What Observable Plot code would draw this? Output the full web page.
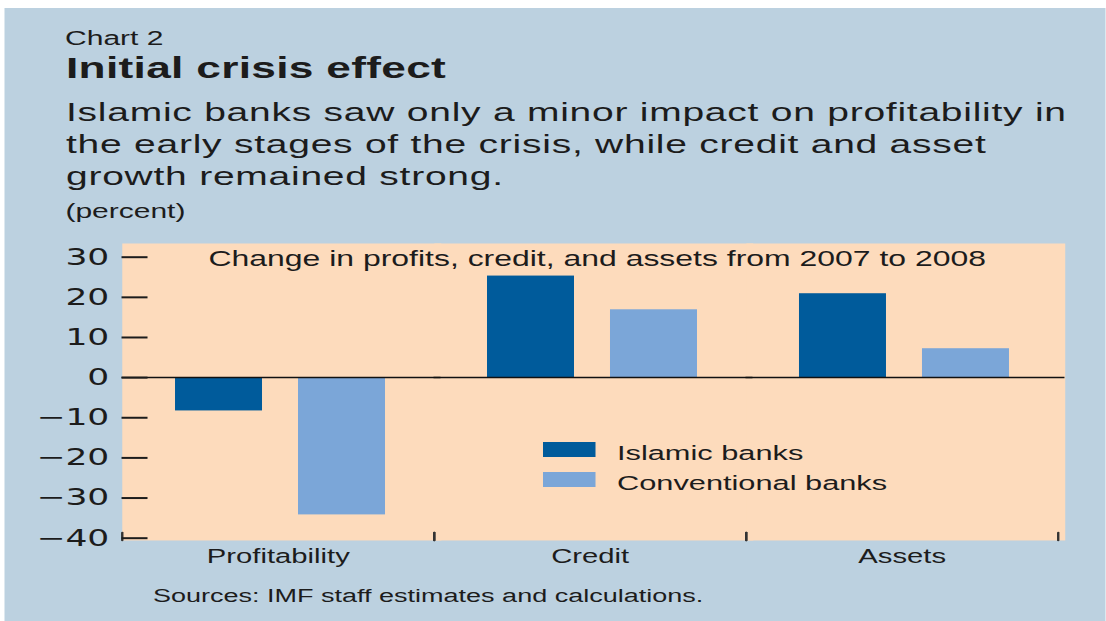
<!DOCTYPE html>
<html><head><meta charset="utf-8">
<script src="https://cdn.jsdelivr.net/npm/d3@7"></script>
<script src="https://cdn.jsdelivr.net/npm/@observablehq/plot@0.6"></script>
<style>
html,body{margin:0;padding:0;background:#fff;overflow:hidden;width:1106px;height:621px}
#fig{position:absolute;left:0;top:0;width:737.333px;height:621px;transform:scaleX(1.5);transform-origin:0 0;font-family:"Liberation Sans",Arial,sans-serif;color:#1c1c1c}
#panel{position:absolute;left:3.333px;top:8px;width:734px;height:613px;background:#bcd1e0}
.t{position:absolute;white-space:nowrap}
#chart{position:absolute;left:0;top:236px}
.sw{position:absolute;width:34.9px;height:15px}
</style></head><body>
<div id="fig">
  <div id="panel"></div>
  <div class="t" style="left:43.4px;top:28.1px;font-size:20px;line-height:20px">Chart 2</div>
  <div class="t" style="left:44px;top:52.7px;font-size:29.5px;line-height:29.5px;font-weight:bold;letter-spacing:0.2px">Initial crisis effect</div>
  <div class="t" style="left:44px;top:96px;font-size:26px;line-height:32px;letter-spacing:0.5px">Islamic banks saw only a minor impact on profitability in<br>the early stages of the crisis, while credit and asset<br>growth remained strong.</div>
  <div class="t" style="left:43.6px;top:201.4px;font-size:20px;line-height:20px">(percent)</div>
  <div id="chart"></div>
  <div id="legend"></div>
  <div class="t" style="left:102px;top:586.5px;font-size:18px;line-height:18px">Sources: IMF staff estimates and calculations.</div>
</div>
<script>
const categories = ["Profitability", "Credit", "Assets"];
const series = ["Islamic banks", "Conventional banks"];
const islamicValues = [-8.3, 25.3, 20.9];
const conventionalValues = [-34.2, 16.9, 7.2];
const yTicks = [-40, -30, -20, -10, 0, 10, 20, 30];
const seriesColors = ["#005b9b", "#7ba6d8"];
const chartNote = "Change in profits, credit, and assets from 2007 to 2008";

const data = categories.flatMap((c, i) => [
  {category: c, series: series[0], value: islamicValues[i]},
  {category: c, series: series[1], value: conventionalValues[i]}
]);

const S = 1.5; // horizontal stretch of the whole figure
const W = 1106 / S;
const boundaryTick = {draw(ctx, l) { ctx.moveTo(0, 0); ctx.lineTo(0, -l); }};

const plot = Plot.plot({
  width: W,
  height: 340,
  marginLeft: 122 / S,
  marginRight: W - 1058 / S,
  marginTop: 20.7,
  marginBottom: 38.3,
  style: {background: "transparent", color: "#1c1c1c", fontFamily: "Liberation Sans, Arial, sans-serif", overflow: "visible"},
  fx: {domain: categories, padding: 0},
  x: {domain: series, paddingInner: 0.29, paddingOuter: 0.4, align: 0.53, axis: null},
  y: {domain: [-40, 30]},
  color: {domain: series, range: seriesColors},
  marks: [
    Plot.frame({fill: "#fddbbc", stroke: "none", insetTop: -13.7, insetBottom: -2.3, insetRight: -7 / S}),
    Plot.barY(data, {fx: "category", x: "series", y: "value", fill: "series"}),
    Plot.ruleY([0], {stroke: "#111", strokeWidth: 1.5, insetRight: -7 / S}),
    Plot.vector([0], {frameAnchor: "bottom-left", anchor: "start", length: 8, shape: boundaryTick, stroke: "#333", strokeWidth: 1.6, dy: 2.3}),
    Plot.vector([0], {frameAnchor: "bottom-right", anchor: "start", length: 8, shape: boundaryTick, stroke: "#333", strokeWidth: 1.6, dy: 2.3}),
    Plot.axisY({ticks: yTicks, tickSize: 26 / S, insetLeft: 26 / S, tickPadding: 13 / S,
      tickFormat: d => d < 0 ? "\u2212" + (-d) : String(d),
      fontSize: 23, fontFamily: "DejaVu Sans", strokeWidth: 2, label: null}),
    Plot.axisFx({anchor: "bottom", tickSize: 0, tickPadding: 10.5, fontSize: 19.5, label: null}),
    Plot.text([chartNote], {fx: () => categories[1], frameAnchor: "top", lineAnchor: "top", dy: -6.8, dx: 7 / S, fontSize: 21.3})
  ]
});
document.getElementById("chart").appendChild(plot);

// legend built from the same series / colours
const legend = document.getElementById("legend");
series.forEach((s, i) => {
  const sw = document.createElement("div");
  sw.className = "sw";
  sw.style.left = (543.6 / S) + "px";
  sw.style.top = (442 + 30 * i) + "px";
  sw.style.background = seriesColors[i];
  legend.appendChild(sw);
  const lb = document.createElement("div");
  lb.className = "t";
  lb.style.left = (617 / S) + "px";
  lb.style.top = (442.6 + 30 * i) + "px";
  lb.style.fontSize = "20.5px";
  lb.style.lineHeight = "20.5px";
  lb.textContent = s;
  legend.appendChild(lb);
});
</script>
</body></html>
